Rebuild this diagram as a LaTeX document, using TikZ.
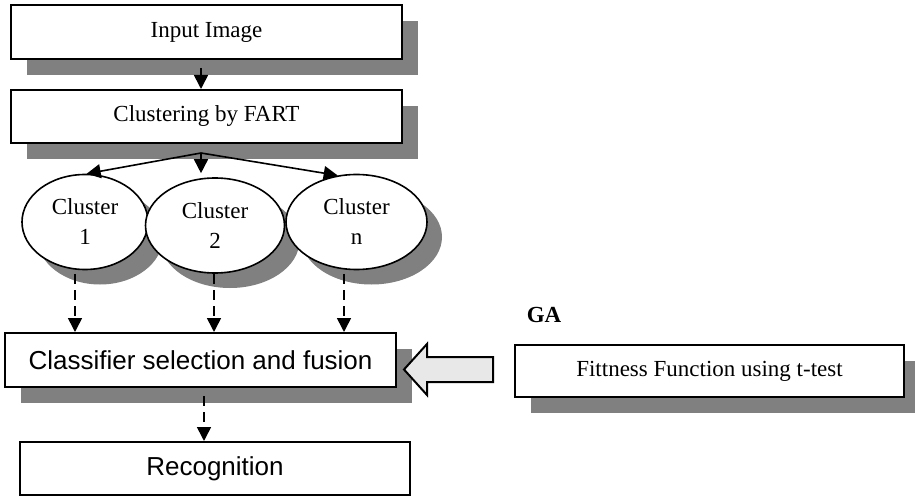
\documentclass[tikz,border=0pt]{standalone}
\usepackage{fontspec}
\setmainfont{Liberation Serif}
\setsansfont{Liberation Sans}
\usetikzlibrary{shapes.geometric,shadows,arrows.meta}
\tikzstyle{Kasten}= [draw,line width=1pt,fill=white,inner sep=0pt,minimum width=195.5pt,minimum height=27pt,font=\fontsize{11.5}{14}\selectfont]
\tikzstyle{Schatten}= [drop shadow={shadow xshift=8pt,shadow yshift=-8pt,fill=black!50,opacity=1}]
\tikzstyle{Serifenlos}= [font=\sffamily\fontsize{13}{15}\selectfont]
\tikzstyle{Wolke}= [ellipse,draw,line width=0.8pt,fill=white,inner sep=0pt,align=center,font=\fontsize{11.5}{15}\selectfont,drop shadow={shadow xshift=7.5pt,shadow yshift=-7.5pt,fill=black!50,opacity=1}]
\tikzstyle{Pfeil}= [line width=0.8pt,-{Triangle[length=7pt,width=7pt]}]
\tikzstyle{Strich}= [Pfeil,dash pattern=on 5pt off 3pt]

\begin{document}
\begin{tikzpicture}[x=0.5pt,y=-0.5pt]
\useasboundingbox (0,0) rectangle (915,497);

		\node [Kasten,Schatten] (0) at (206.5,32) {Input Image};
		\node [Kasten,Schatten,minimum height=26.5pt] (1) at (206.5,116.5) {Clustering by FART};
		\node [Wolke,minimum width=63pt,minimum height=47.5pt] (2) at (85,222) {Cluster\\1};
		\node [Wolke,minimum width=69.5pt,minimum height=47.5pt] (3) at (215,225.5) {Cluster\\2};
		\node [Wolke,minimum width=70.5pt,minimum height=47.5pt] (4) at (356.5,222) {Cluster\\n};
		\node [Kasten,Schatten,Serifenlos] (5) at (200.5,360) {Classifier selection and fusion};
		\node [Kasten,Serifenlos,minimum width=195pt,minimum height=26.5pt] (6) at (215,468.5) {Recognition};
		\node [Kasten,Schatten,minimum width=194.5pt,minimum height=26pt] (7) at (709.5,371) {Fittness Function using t-test};
		\node [font=\bfseries\fontsize{11.5}{14}\selectfont] (8) at (544,315) {GA};

		\coordinate (a) at (201,68);
		\coordinate (b) at (201,153);
		\coordinate (c1) at (75,274);
		\coordinate (c2) at (214,274);
		\coordinate (c3) at (344,274);
		\coordinate (d) at (204,396);

		\draw[Pfeil] (a) -- (a |- 1.north);
		\draw[Pfeil] (b) -- (2.88);
		\draw[Pfeil,shorten >=2pt] (b) -- (b |- 3.north);
		\draw[Pfeil] (b) -- (4.112);

		\draw[Strich] (c1) -- (c1 |- 5.north);
		\draw[Strich] (c2) -- (c2 |- 5.north);
		\draw[Strich] (c3) -- (c3 |- 5.north);
		\draw[Strich] (d) -- (d |- 6.north);

		% GA feeds back into the classifier
		\draw[line width=1pt,fill=black!9]
		(493,357) -- (427,357) -- (427,344) -- (404,369.5) -- (427,395) -- (427,382) -- (493,382) -- cycle;

\end{tikzpicture}
\end{document}
